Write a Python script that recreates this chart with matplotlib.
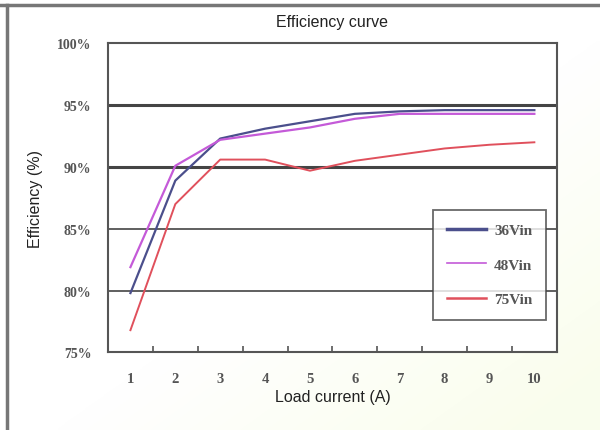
import matplotlib
matplotlib.use('Agg')
import matplotlib.pyplot as plt
from matplotlib.lines import Line2D
import numpy as np

plt.rcParams['font.family'] = 'Liberation Sans'

# Data
load_current = [1, 2, 3, 4, 5, 6, 7, 8, 9, 10]
eff_36vin = [79.8, 88.9, 92.3, 93.1, 93.7, 94.3, 94.5, 94.6, 94.6, 94.6]
eff_48vin = [81.9, 90.1, 92.2, 92.7, 93.2, 93.9, 94.3, 94.3, 94.3, 94.3]
eff_75vin = [76.8, 87.0, 90.6, 90.6, 89.7, 90.5, 91.0, 91.5, 91.8, 92.0]
series_labels = ['36Vin', '48Vin', '75Vin']
y_ticks = [75, 80, 85, 90, 95, 100]

COLORS = ['#4b4f8c', '#c45ad8', '#e0505c']

fig = plt.figure(figsize=(6, 4.31), dpi=100)
fig.patch.set_facecolor('white')

# faint slide background in the lower right corner
bg = fig.add_axes([0, 0, 1, 1], zorder=-10)
gx, gy = np.meshgrid(np.linspace(0, 1, 200), np.linspace(0, 1, 200))
grad = np.clip((gx - 0.55) * 1.3 + (gy - 0.55) * 1.3, 0, 1)
bg_rgb = np.ones((200, 200, 3))
bg_rgb[..., 0] -= 0.02 * grad
bg_rgb[..., 1] -= 0.005 * grad
bg_rgb[..., 2] -= 0.07 * grad
bg.imshow(bg_rgb, extent=[0, 1, 0, 1], aspect='auto', origin='upper')
bg.axis('off')

# outer frame lines of the slide
fig.add_artist(Line2D([0, 1], [0.986, 0.986], color='#777777', lw=2.5,
                      transform=fig.transFigure))
fig.add_artist(Line2D([0.012, 0.012], [0, 0.986], color='#777777', lw=2.5,
                      transform=fig.transFigure))

ax = fig.add_axes([0.18, 0.18, 0.748, 0.717])
ax.set_facecolor('white')

ax.plot(load_current, eff_36vin, color=COLORS[0], lw=1.6, zorder=3)
ax.plot(load_current, eff_48vin, color=COLORS[1], lw=1.6, zorder=3)
ax.plot(load_current, eff_75vin, color=COLORS[2], lw=1.4, zorder=3)

ax.set_xlim(0.5, 10.5)
ax.set_ylim(75, 100)

# gridlines
for v, w in [(95, 2.2), (90, 2.2), (85, 1.2), (80, 1.2)]:
    ax.axhline(v, color='#444444', lw=w, zorder=1)

for s in ax.spines.values():
    s.set_color('#555555')
    s.set_linewidth(1.5)

ax.set_yticks(y_ticks)
ax.set_yticklabels([f'{v}%' for v in y_ticks], fontfamily='Liberation Serif',
                   fontweight='bold', fontsize=10, color='#555555')
ax.tick_params(axis='y', length=0, pad=12)

# category boundaries as ticks, labels at the centres
ax.set_xticks(np.arange(1.5, 10.5, 1.0))
ax.set_xticklabels([])
ax.tick_params(axis='x', which='major', direction='in', length=4, color='#555555', width=1.2)
ax.set_xticks(load_current, minor=True)
ax.set_xticklabels([str(v) for v in load_current], minor=True,
                   fontfamily='Liberation Serif', fontweight='bold', fontsize=10.5, color='#555555')
ax.tick_params(axis='x', which='minor', length=0, pad=14)

ax.set_xlabel('Load current (A)', fontsize=11.5, color='#222222', labelpad=3)
ax.set_ylabel('Efficiency (%)', fontsize=11.5, color='#222222', labelpad=10)

fig.text(0.553, 0.948, 'Efficiency curve', ha='center', va='center',
         fontsize=11.5, color='#222222')

handles = [
    Line2D([], [], color=COLORS[0], lw=2.5),
    Line2D([], [], color=COLORS[1], lw=1.2),
    Line2D([], [], color=COLORS[2], lw=1.8),
]
leg = ax.legend(handles, series_labels, loc='upper left',
                bbox_to_anchor=(0.724, 0.461), borderaxespad=0, frameon=True, fancybox=False,
                prop={'family': 'Liberation Serif', 'weight': 'bold', 'size': 11},
                handlelength=2.6, labelspacing=1.35, borderpad=0.9, handletextpad=0.5)
leg.get_frame().set_edgecolor('#444444')
leg.get_frame().set_linewidth(1.3)
for t in leg.get_texts():
    t.set_color('#555555')

fig.savefig('out.png', dpi=100)
